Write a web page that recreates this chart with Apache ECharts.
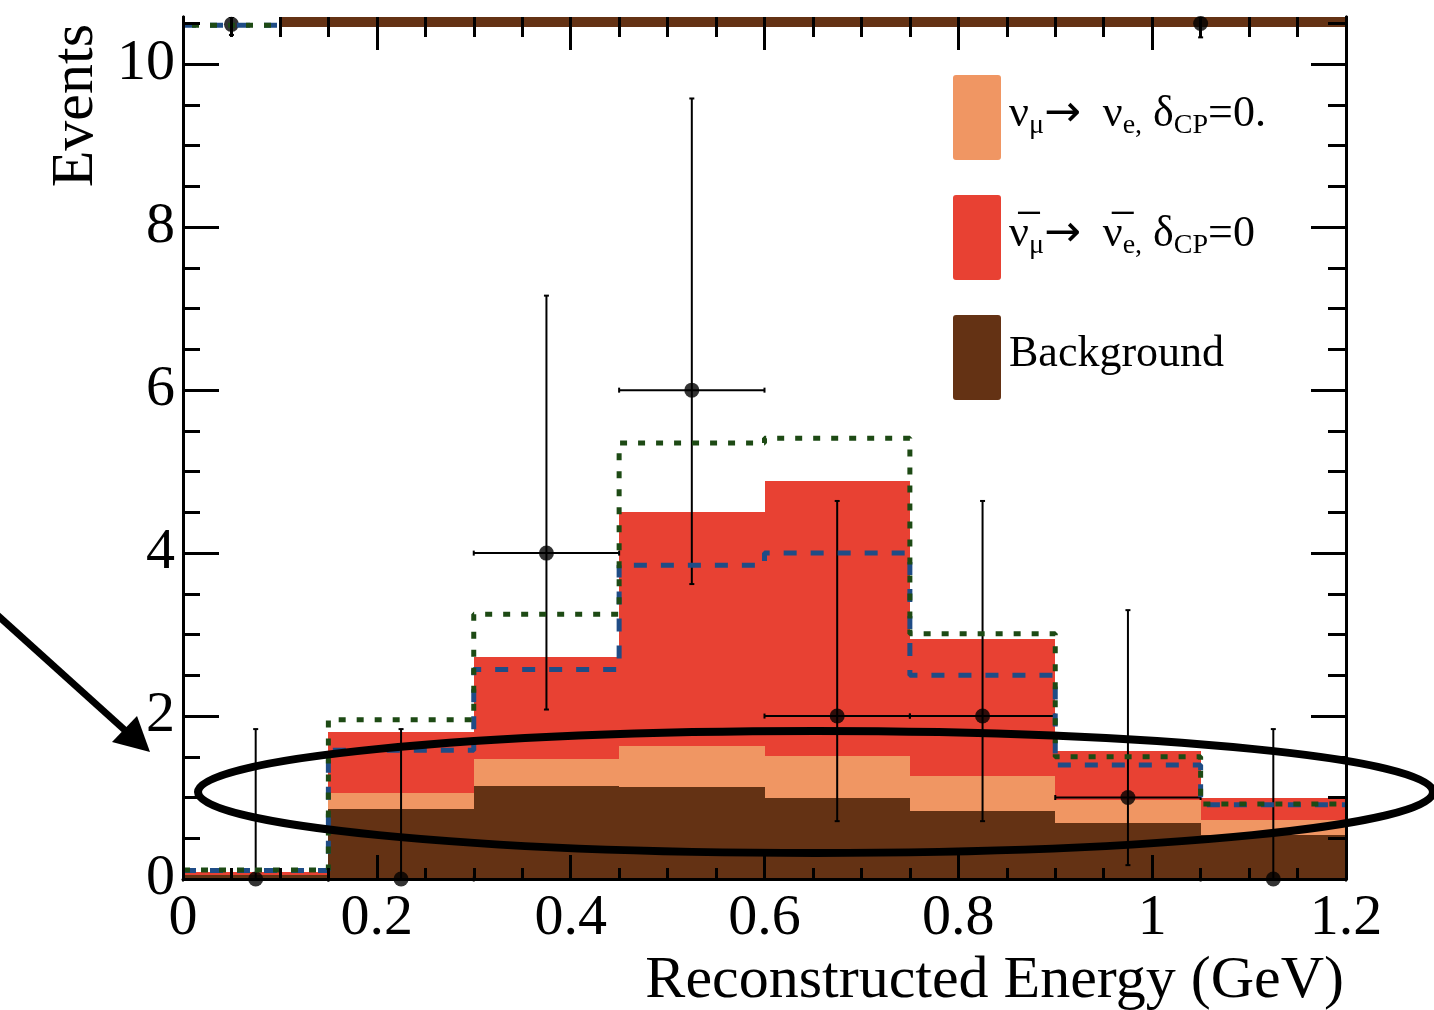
<!DOCTYPE html>
<html>
<head>
<meta charset="utf-8">
<script src="https://cdn.jsdelivr.net/npm/echarts@6/dist/echarts.min.js"></script>
<style>
  html, body { margin: 0; padding: 0; background: #fff; }
  #chart { width: 1434px; height: 1010px; }
</style>
</head>
<body>
<div id="chart"></div>
<script>
// Reconstructed-energy histogram: stacked predictions, alternative totals and data points.
const binEdges = [0, 0.15, 0.3, 0.45, 0.6, 0.75, 0.9, 1.05, 1.2];

// Stacked prediction components per bin (events)
const background  = [0.045, 0.86, 1.145, 1.13, 0.99, 0.83, 0.69, 0.54];
const numuNue     = [0.010, 0.195, 0.33, 0.505, 0.52, 0.43, 0.275, 0.19];
const antiNumuNue = [0.035, 0.755, 1.255, 2.865, 3.37, 1.68, 0.605, 0.26];

// Alternative total predictions (outlines)
const dashedTotal = [0.105, 1.58, 2.57, 3.85, 4.00, 2.50, 1.40, 0.91];
const dottedTotal = [0.11, 1.955, 3.25, 5.35, 5.41, 3.01, 1.50, 0.92];

// Observed events with asymmetric Poisson intervals
const dataEnergy  = [0.075, 0.225, 0.375, 0.525, 0.675, 0.825, 0.975, 1.125];
const dataCounts  = [0, 0, 4, 6, 2, 2, 1, 0];
const dataErrLow  = [0, 0, 2.08, 3.62, 0.71, 0.71, 0.17, 0];
const dataErrHigh = [1.84, 1.84, 7.16, 9.58, 4.64, 4.64, 3.30, 1.84];

// Content reaching the upper edge of the frame
const upperBandEdges = [0.1, 1.2];
const upperBandLow = 10.46;
const upperLineEdges = [0, 0.1];
const upperLineLevel = 10.48;
const upperEnergy = [0.05, 1.05];
const upperCounts = [10.49, 10.50];
const upperErrLow = [10.36, 10.33];

// Axis ranges and ticks
const xMin = 0, xMax = 1.2, xStep = 0.2;
const yMin = 0, yMax = 10.58;
const yTickValues = [0, 2, 4, 6, 8, 10];
const yMinorValues = [0.5, 1, 1.5, 2.5, 3, 3.5, 4.5, 5, 5.5, 6.5, 7, 7.5, 8.5, 9, 9.5, 10.5];

const serif = '"Liberation Serif", "Times New Roman", serif';
const colors = {
  background: '#643214',
  numuNue: '#F09663',
  antiNumuNue: '#E84133',
  dashed: '#1F4C86',
  dotted: '#1D4A14'
};

const NAME_NUE = 'νμ → νe, δCP=0';
const NAME_ANUE = 'anti νμ → νe, δCP=0';
const NAME_BG = 'Background';

// Build stacked [x0, x1, yLow, yHigh] rectangles
function stackRects(layers, index) {
  const out = [];
  for (let i = 0; i < binEdges.length - 1; i++) {
    let low = 0;
    for (let k = 0; k < index; k++) low += layers[k][i];
    out.push([binEdges[i], binEdges[i + 1], low, low + layers[index][i]]);
  }
  return out;
}
const layers = [background, numuNue, antiNumuNue];

function stepLine(values) {
  const pts = values.map((v, i) => [binEdges[i], v]);
  pts.push([binEdges[binEdges.length - 1], values[values.length - 1]]);
  return pts;
}

function rectItem(params, api) {
  const p0 = api.coord([api.value(0), api.value(2)]);
  const p1 = api.coord([api.value(1), api.value(3)]);
  const x0 = Math.round(p0[0]), x1 = Math.round(p1[0]);
  const yb = Math.round(p0[1]), yt = Math.round(p1[1]);
  return {
    type: 'rect',
    shape: { x: x0, y: yt, width: x1 - x0, height: yb - yt },
    style: { fill: api.visual('color') }
  };
}

function errorItem(params, api) {
  const x = api.value(0), y = api.value(1);
  const lo = api.value(2), hi = api.value(3);
  const xl = api.value(4), xr = api.value(5);
  const c = api.coord([x, y]);
  const t = api.coord([x, hi]);
  const b = api.coord([x, lo]);
  const l = api.coord([xl, y]);
  const r = api.coord([xr, y]);
  const st = { stroke: '#000', lineWidth: 2 };
  const cap = 2.5;
  const kids = [
    { type: 'line', shape: { x1: t[0], y1: t[1], x2: b[0], y2: b[1] }, style: st },
    { type: 'line', shape: { x1: t[0] - cap, y1: t[1], x2: t[0] + cap, y2: t[1] }, style: st },
    { type: 'line', shape: { x1: b[0] - cap, y1: b[1], x2: b[0] + cap, y2: b[1] }, style: st }
  ];
  if (xr > xl) {
    kids.push(
      { type: 'line', shape: { x1: l[0], y1: c[1], x2: r[0], y2: c[1] }, style: st },
      { type: 'line', shape: { x1: l[0], y1: c[1] - cap, x2: l[0], y2: c[1] + cap }, style: st },
      { type: 'line', shape: { x1: r[0], y1: c[1] - cap, x2: r[0], y2: c[1] + cap }, style: st }
    );
  }
  return { type: 'group', children: kids };
}

const errorData = dataEnergy.map((e, i) => [
  e, dataCounts[i], dataErrLow[i], dataErrHigh[i], binEdges[i], binEdges[i + 1]
]);
const upperErrorData = upperEnergy.map((e, i) => [e, upperCounts[i], upperErrLow[i], yMax, e, e]);

const axisLineStyle = { color: '#000', width: 3 };
const tickStyle = { color: '#000', width: 3 };

function yAxisDef(position, length, values, labels) {
  return {
    type: 'value', position: position, min: yMin, max: yMax, z: 10,
    axisLine: { show: true, onZero: false, lineStyle: axisLineStyle },
    axisTick: { show: true, inside: true, length: length, customValues: values, lineStyle: tickStyle },
    axisLabel: labels ? {
      show: true, customValues: yTickValues, fontFamily: serif, fontSize: 58, color: '#000', margin: 8
    } : { show: false },
    splitLine: { show: false }
  };
}

const legendRich = {};
legendRich[NAME_NUE] = '{m|ν}{s|μ}{a|→}{m|  ν}{s|e,}{m| δ}{s|CP}{m|=0.}';
legendRich[NAME_ANUE] = '{m|ν\u0305}{s|μ}{a|→}{m|  ν\u0305}{s|e,}{m| δ}{s|CP}{m|=0}';
legendRich[NAME_BG] = '{m|Background}';

const chart = echarts.init(document.getElementById('chart'), null, { renderer: 'canvas' });

chart.setOption({
  backgroundColor: '#fff',
  animation: false,
  grid: { left: 183, right: 88, top: 17, bottom: 131, outerBoundsMode: 'none', containLabel: false },
  xAxis: [
    {
      type: 'value', position: 'bottom', min: xMin, max: xMax, interval: xStep, z: 10,
      axisLine: { show: true, onZero: false, lineStyle: axisLineStyle },
      axisTick: { show: true, inside: true, length: 24, lineStyle: tickStyle },
      minorTick: { show: true, splitNumber: 4, length: 11, lineStyle: tickStyle },
      axisLabel: { fontFamily: serif, fontSize: 58, color: '#000', margin: 11 },
      splitLine: { show: false }, minorSplitLine: { show: false }
    },
    {
      type: 'value', position: 'top', min: xMin, max: xMax, interval: xStep, z: 10,
      axisLine: { show: false, onZero: false },
      axisTick: { show: true, inside: true, length: 33, lineStyle: tickStyle },
      minorTick: { show: true, splitNumber: 4, length: 20, lineStyle: tickStyle },
      axisLabel: { show: false },
      splitLine: { show: false }, minorSplitLine: { show: false }
    }
  ],
  yAxis: [
    yAxisDef('left', 36, yTickValues, true),
    yAxisDef('left', 17, yMinorValues, false),
    yAxisDef('right', 35, yTickValues, false),
    yAxisDef('right', 18, yMinorValues, false)
  ],
  legend: {
    orient: 'vertical', left: 953, top: 75, padding: 0,
    itemWidth: 48, itemHeight: 85, itemGap: 35,
    icon: 'path://M3,0 H45 Q48,0 48,3 V82 Q48,85 45,85 H3 Q0,85 0,82 V3 Q0,0 3,0 Z',
    selectedMode: false,
    data: [NAME_NUE, NAME_ANUE, NAME_BG],
    formatter: name => legendRich[name],
    textStyle: {
      color: '#000', fontFamily: serif, padding: [0, 0, 6, 3],
      rich: {
        m: { fontFamily: serif, fontSize: 44, color: '#000', lineHeight: 50, verticalAlign: 'middle' },
        a: { fontFamily: '"DejaVu Sans", sans-serif', fontSize: 44, color: '#000', lineHeight: 50, verticalAlign: 'middle' },
        s: { fontFamily: serif, fontSize: 28, color: '#000', lineHeight: 14, verticalAlign: 'bottom' }
      }
    }
  },
  series: [
    {
      name: NAME_BG, type: 'custom', renderItem: rectItem,
      itemStyle: { color: colors.background },
      encode: { x: [0, 1], y: [2, 3] }, data: stackRects(layers, 0)
    },
    {
      name: NAME_NUE, type: 'custom', renderItem: rectItem,
      itemStyle: { color: colors.numuNue },
      encode: { x: [0, 1], y: [2, 3] }, data: stackRects(layers, 1)
    },
    {
      name: NAME_ANUE, type: 'custom', renderItem: rectItem,
      itemStyle: { color: colors.antiNumuNue },
      encode: { x: [0, 1], y: [2, 3] }, data: stackRects(layers, 2)
    },
    {
      type: 'custom', renderItem: rectItem, silent: true,
      itemStyle: { color: colors.background },
      encode: { x: [0, 1], y: [2, 3] },
      data: [[upperBandEdges[0], upperBandEdges[1], upperBandLow, yMax]]
    },
    {
      type: 'line', step: 'end', symbol: 'none', silent: true,
      lineStyle: { color: colors.dashed, width: 5, type: [13, 14], cap: 'butt' },
      data: stepLine(dashedTotal)
    },
    {
      type: 'line', step: 'end', symbol: 'none', silent: true,
      lineStyle: { color: colors.dotted, width: 5, type: [7, 11], cap: 'butt' },
      data: stepLine(dottedTotal)
    },
    {
      type: 'line', symbol: 'none', silent: true,
      lineStyle: { color: colors.dashed, width: 5, type: [13, 14], cap: 'butt' },
      data: upperLineEdges.map(x => [x, upperLineLevel])
    },
    {
      type: 'line', symbol: 'none', silent: true,
      lineStyle: { color: colors.dotted, width: 5, type: [7, 11], cap: 'butt', dashOffset: 9 },
      data: upperLineEdges.map(x => [x, upperLineLevel])
    },
    {
      type: 'custom', renderItem: errorItem, silent: true,
      encode: { x: 0, y: 1 }, data: errorData
    },
    {
      type: 'custom', renderItem: errorItem, silent: true, clip: true,
      encode: { x: 0, y: 1 }, data: upperErrorData
    },
    {
      type: 'scatter', symbol: 'circle', symbolSize: 15, silent: true,
      itemStyle: { color: '#000' },
      data: dataEnergy.map((e, i) => [e, dataCounts[i]])
    },
    {
      type: 'scatter', symbol: 'circle', symbolSize: 15, silent: true,
      itemStyle: { color: '#000' },
      data: upperEnergy.map((e, i) => [e, upperCounts[i]])
    }
  ],
  graphic: [
    {
      type: 'text', z: 50,
      style: {
        text: 'Reconstructed Energy (GeV)', x: 1344, y: 981,
        align: 'right', verticalAlign: 'middle',
        font: '60px ' + serif, fill: '#000'
      }
    },
    {
      type: 'text', z: 50, x: 76, y: 24, rotation: Math.PI / 2,
      style: {
        text: 'Events', x: 0, y: 0,
        align: 'right', verticalAlign: 'middle',
        font: '60px ' + serif, fill: '#000'
      }
    },
    {
      type: 'ellipse', z: 100,
      shape: { cx: 815.5, cy: 792, rx: 617.5, ry: 61 },
      style: { fill: 'none', stroke: '#000', lineWidth: 8 }
    },
    {
      type: 'line', z: 100,
      shape: { x1: -5, y1: 613, x2: 128, y2: 733 },
      style: { stroke: '#000', lineWidth: 7 }
    },
    {
      type: 'polygon', z: 100,
      shape: { points: [[150, 752], [112, 742], [137, 716]] },
      style: { fill: '#000' }
    }
  ]
});
</script>
</body>
</html>
